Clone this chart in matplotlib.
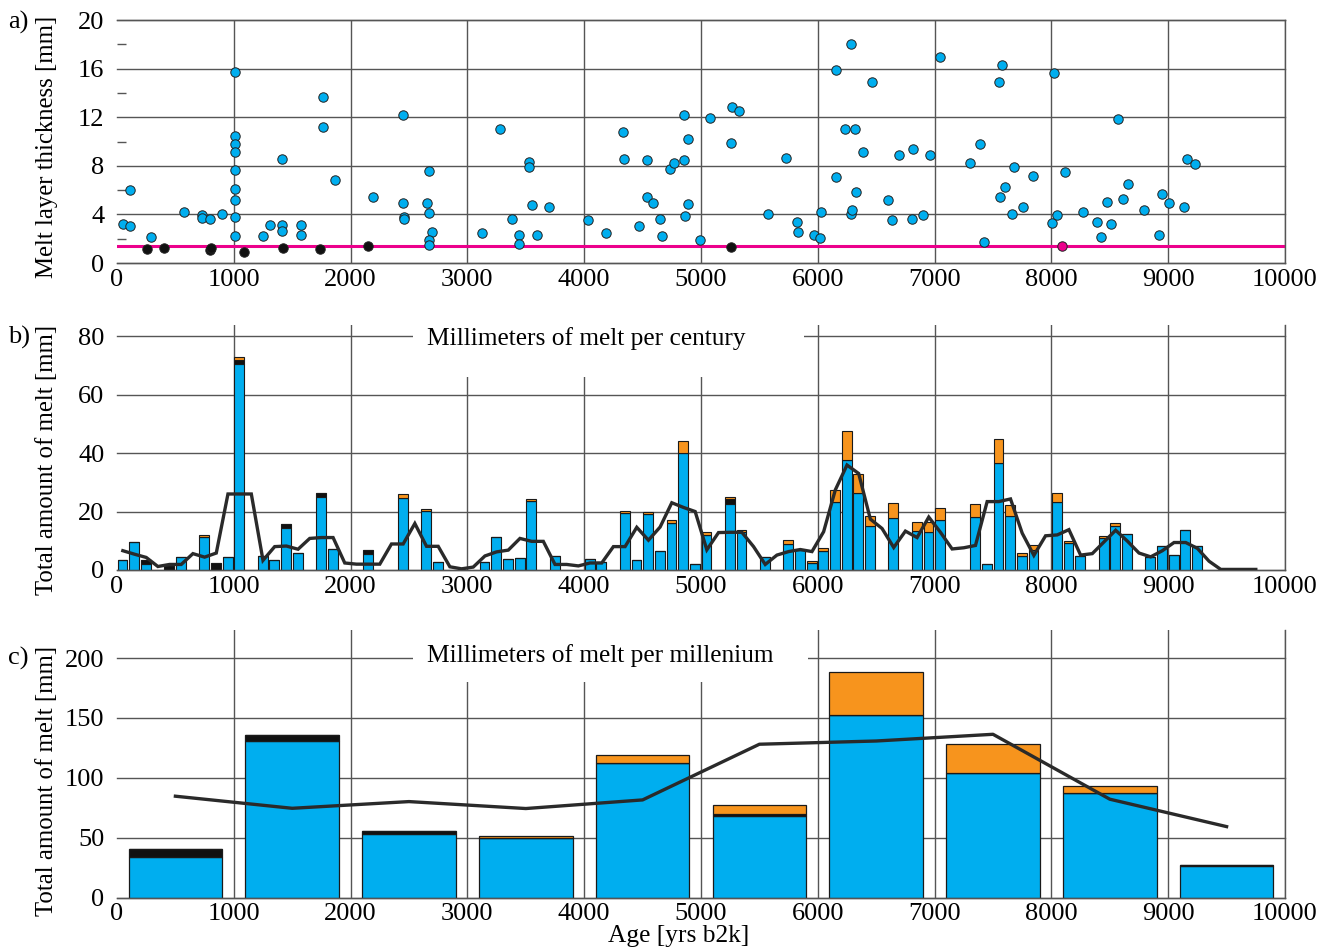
import matplotlib
matplotlib.use("Agg")
import matplotlib.pyplot as plt
from matplotlib.patches import Rectangle
import numpy as np

plt.rcParams['font.family'] = ['Liberation Serif', 'DejaVu Serif']

# ---------------- Panel a data: individual melt layers ----------------
blue_x = [48, 108, 108, 290, 573, 729, 729, 795, 903,
          1011, 1011, 1011, 1011, 1011, 1011, 1011, 1011, 1011,
          1251, 1311, 1413, 1413, 1413, 1578, 1578, 1761, 1761, 1863, 2188,
          2447, 2447, 2453, 2453, 2672, 2655, 2672, 2701, 2672, 2672,
          3125, 3282, 3379, 3438, 3438, 3529, 3529, 3552, 3592, 3697,
          4033, 4190, 4335, 4338, 4466, 4534, 4534, 4591, 4648, 4665,
          4734, 4773, 4853, 4853, 4859, 4890, 4890, 4993, 5081,
          5260, 5269, 5328, 5573, 5724, 5821, 5832, 5969, 6020, 6029,
          6160, 6160, 6231, 6285, 6319, 6285, 6294, 6330, 6390, 6464,
          6601, 6635, 6692, 6809, 6818, 6900, 6960, 7043, 7305, 7390, 7419,
          7553, 7575, 7558, 7601, 7661, 7678, 7758, 7843, 8006, 8026, 8046, 8117,
          8271, 8393, 8427, 8473, 8507, 8573, 8613, 8655, 8795, 8920, 8946,
          9003, 9131, 9160, 9228]
blue_y = [3.23, 6.03, 3.04, 2.16, 4.16, 3.95, 3.70, 3.64, 4.03,
          15.75, 10.44, 9.78, 9.10, 7.62, 6.05, 5.18, 3.81, 2.22,
          2.19, 3.12, 8.52, 3.10, 2.60, 3.15, 2.27, 13.70, 11.23, 6.85, 5.45,
          12.16, 4.93, 3.80, 3.60, 7.56, 4.93, 4.11, 2.55, 1.92, 1.45,
          2.47, 10.99, 3.62, 2.30, 1.53, 8.30, 7.92, 4.74, 2.33, 4.58,
          3.51, 2.47, 10.82, 8.52, 3.04, 8.49, 5.45, 4.90, 3.64, 2.25,
          7.70, 8.27, 12.19, 8.47, 3.89, 10.19, 4.85, 1.92, 11.95,
          9.84, 12.85, 12.47, 4.00, 8.63, 3.40, 2.58, 2.33, 2.05, 4.22,
          15.89, 7.10, 10.99, 18.00, 11.04, 4.03, 4.36, 5.84, 9.10, 14.88,
          5.15, 3.56, 8.88, 3.64, 9.37, 3.92, 8.88, 16.99, 8.19, 9.78, 1.75,
          14.90, 16.27, 5.40, 6.25, 4.00, 7.92, 4.58, 7.18, 3.26, 15.67, 3.97, 7.53,
          4.22, 3.40, 2.16, 5.01, 3.23, 11.84, 5.29, 6.49, 4.36, 2.30, 5.64,
          4.93, 4.63, 8.52, 8.16]
black_x = [256, 402, 800, 806, 1085, 1419, 1741, 2151, 5257]
black_y = [1.15, 1.26, 1.10, 1.25, 0.90, 1.23, 1.15, 1.37, 1.32]
pink_x = [8094]
pink_y = [1.40]
threshold = 1.4

# ---------------- Panel b data: melt per century ----------------
cent_start = [0, 100, 200, 400, 500, 700, 800, 900, 1000, 1200, 1300, 1400, 1500,
              1700, 1800, 2100, 2400, 2600, 2700, 3100, 3200, 3300, 3400, 3500,
              3700, 4000, 4100, 4300, 4400, 4500, 4600, 4700, 4800, 4900, 5000,
              5200, 5300, 5500, 5700, 5800, 5900, 6000, 6100, 6200, 6300, 6400,
              6600, 6800, 6900, 7000, 7300, 7400, 7500, 7600, 7700, 7800, 8000,
              8100, 8200, 8400, 8500, 8600, 8800, 8900, 9000, 9100, 9200]
cent_blue = [3.4, 9.6, 2.2, 0.0, 4.5, 11.4, 0.0, 4.3, 70.6, 4.8, 3.4, 14.3, 5.9,
             24.8, 7.1, 5.5, 24.6, 20.3, 2.6, 2.6, 11.3, 3.8, 4.1, 23.5,
             4.8, 3.8, 2.6, 19.5, 3.4, 19.0, 6.5, 16.1, 40.0, 2.2, 11.9,
             22.6, 13.0, 4.3, 8.8, 6.9, 2.4, 6.6, 23.2, 37.6, 26.3, 14.9,
             17.8, 13.3, 13.0, 17.0, 18.1, 2.2, 36.7, 18.4, 4.7, 6.9, 23.2,
             9.3, 4.7, 10.9, 15.2, 12.3, 4.6, 8.3, 5.3, 13.6, 8.3]
cent_black = [0, 0, 1.2, 1.3, 0, 0, 2.4, 0, 1.1, 0, 0, 1.6, 0,
              1.4, 0, 1.5, 0, 0, 0, 0, 0, 0, 0, 0,
              0, 0, 0, 0, 0, 0, 0, 0, 0, 0, 0,
              1.6, 0, 0, 0, 0, 0, 0, 0, 0, 0, 0,
              0, 0, 0, 0, 0, 0, 0, 0, 0, 0, 0,
              0, 0, 0, 0, 0, 0, 0, 0, 0, 0]
cent_orange = [0, 0, 0, 0, 0, 0.6, 0, 0, 1.2, 0, 0, 0, 0,
               0, 0, 0, 1.4, 0.7, 0, 0, 0, 0, 0, 0.8,
               0, 0, 0, 0.8, 0, 0.8, 0, 1.0, 4.0, 0, 1.0,
               0.6, 0.7, 0, 1.3, 0, 0.6, 0.8, 4.1, 9.8, 6.5, 3.4,
               5.1, 3.2, 3.4, 4.1, 4.4, 0, 8.2, 4.0, 1.0, 1.7, 3.1,
               0.6, 0, 0.8, 0.8, 0, 0, 0, 0, 0, 0]
cent_line_x = list(range(50, 9800, 100))
cent_line_y = [6.6, 5.4, 4.3, 1.2, 1.9, 1.9, 5.6, 4.4, 5.8, 26.0,
               26.0, 26.0, 3.3, 8.0, 8.2, 7.1, 10.8, 11.1, 11.1, 2.4,
               2.0, 2.0, 2.0, 8.9, 8.9, 15.9, 8.1, 8.1, 1.1, 0.4,
               1.0, 4.8, 6.2, 6.8, 10.8, 9.8, 9.8, 1.9, 1.9, 1.4,
               2.4, 2.4, 8.0, 8.0, 14.6, 10.2, 14.7, 23.0, 21.4, 20.0,
               6.9, 12.8, 12.9, 12.9, 8.0, 1.9, 5.1, 6.3, 7.0, 6.3,
               13.1, 27.4, 35.9, 33.0, 17.4, 14.2, 7.7, 13.3, 11.1, 18.1,
               12.9, 7.2, 7.6, 8.4, 23.4, 23.4, 24.3, 12.6, 5.0, 11.7,
               12.0, 13.8, 5.1, 5.6, 9.6, 13.6, 9.9, 5.8, 4.5, 6.6,
               9.4, 9.4, 7.4, 3.0, 0.2, 0.2, 0.2, 0.2]

# ---------------- Panel c data: melt per millennium ----------------
mill_center = [500, 1500, 2500, 3500, 4500, 5500, 6500, 7500, 8500, 9500]
mill_blue = [34.2, 130.5, 53.1, 49.5, 112.1, 68.4, 152.2, 103.8, 87.1, 26.4]
mill_black = [5.9, 5.0, 2.5, 0.0, 0.0, 1.4, 0.0, 0.0, 0.0, 0.9]
mill_orange = [0.0, 0.0, 0.0, 1.8, 6.7, 7.6, 36.4, 24.2, 6.4, 0.0]
mill_line = [84.6, 74.5, 80.1, 74.3, 81.5, 128.0, 130.7, 136.3, 82.1, 59.2]

xticks = list(range(0, 10001, 1000))

BLUE = '#00AEEF'
ORANGE = '#F7941D'
BLACK = '#111111'
PINK = '#EC008C'
GRID = '#555555'
LINE = '#2a2a2a'
FS_TICK = 19
FS_TITLE = 18.3
FS_LAB = 17.8

W, H = 1324, 950
fig = plt.figure(figsize=(W / 100, H / 100), dpi=100)

def frame(ax, yt, top_spine=False):
    ax.set_xlim(0, 10000)
    ax.spines['left'].set_visible(False)
    ax.spines['top'].set_visible(top_spine)
    for s in ['bottom', 'right', 'top']:
        ax.spines[s].set_color(GRID)
        ax.spines[s].set_linewidth(1.0)
    for v in xticks[1:]:
        ax.axvline(v, color=GRID, lw=1.0, zorder=0.5)
    for v in yt:
        ax.axhline(v, color=GRID, lw=1.0, zorder=0.5, clip_on=False)
    ax.set_xticks(xticks)
    ax.set_xticklabels([str(v) for v in xticks])
    ax.set_yticks(yt)
    ax.set_yticklabels([str(v) for v in yt])
    ax.tick_params(axis='both', which='major', length=0, labelsize=FS_TICK)
    ax.tick_params(axis='y', which='major', pad=9)
    ax.tick_params(axis='x', which='major', pad=4)

# Panel a
ax_a = fig.add_axes([117 / W, 1 - 263 / H, 1168 / W, 243 / H])
frame(ax_a, [0, 4, 8, 12, 16, 20], top_spine=True)
ax_a.set_ylim(0, 20)
ax_a.set_yticks([2, 6, 10, 14, 18], minor=True)
ax_a.tick_params(axis='y', which='minor', direction='in', length=6.5, width=1.0, color=GRID)
ax_a.axhline(threshold, color=PINK, lw=2.2, zorder=2)
ax_a.scatter(blue_x, blue_y, s=46, c=BLUE, edgecolors='#222222', linewidths=0.7, zorder=3, clip_on=False)
ax_a.scatter(black_x, black_y, s=46, c=BLACK, edgecolors='#222222', linewidths=0.7, zorder=3)
ax_a.scatter(pink_x, pink_y, s=46, c=PINK, edgecolors='#222222', linewidths=0.7, zorder=3)

# Panel b
ax_b = fig.add_axes([117 / W, 1 - 570 / H, 1168 / W, 245 / H])
frame(ax_b, [0, 20, 40, 60, 80])
ax_b.set_ylim(0, 83.8)
ax_b.add_patch(Rectangle((2530, 66), 3350, 30, facecolor='white', edgecolor='none', zorder=0.8))
bx = np.array(cent_start) + 47
cb = np.array(cent_blue)
ck = np.array(cent_black)
co = np.array(cent_orange)
kw = dict(width=84, edgecolor='#1a1a1a', linewidth=0.8, zorder=2)
ax_b.bar(bx, cb, color=BLUE, **kw)
ax_b.bar(bx, ck, bottom=cb, color=BLACK, **kw)
ax_b.bar(bx, co, bottom=cb + ck, color=ORANGE, **kw)
ax_b.plot(cent_line_x, cent_line_y, color=LINE, lw=2.4, zorder=4, solid_joinstyle='miter')
ax_b.text(2655, 79.3, 'Millimeters of melt per century', fontsize=FS_TITLE, va='center', ha='left', zorder=5)

# Panel c
ax_c = fig.add_axes([117 / W, 1 - 897.5 / H, 1168 / W, 267.5 / H])
frame(ax_c, [0, 50, 100, 150, 200])
ax_c.set_ylim(0, 223.4)
ax_c.add_patch(Rectangle((2530, 180), 3390, 60, facecolor='white', edgecolor='none', zorder=0.8))
mb = np.array(mill_blue)
mk = np.array(mill_black)
mo = np.array(mill_orange)
kw = dict(width=800, edgecolor='#1a1a1a', linewidth=0.9, zorder=2)
ax_c.bar(mill_center, mb, color=BLUE, **kw)
ax_c.bar(mill_center, mk, bottom=mb, color=BLACK, **kw)
ax_c.bar(mill_center, mo, bottom=mb + mk, color=ORANGE, **kw)
ax_c.plot(mill_center, mill_line, color=LINE, lw=2.4, zorder=4)
ax_c.text(2655, 201.7, 'Millimeters of melt per millenium', fontsize=FS_TITLE, va='center', ha='left', zorder=5)

# Labels
fig.text(8 / W, 1 - 22 / H, 'a)', fontsize=FS_TICK, va='center', ha='left')
fig.text(8 / W, 1 - 337 / H, 'b)', fontsize=FS_TICK, va='center', ha='left')
fig.text(8 / W, 1 - 658 / H, 'c)', fontsize=FS_TICK, va='center', ha='left')
fig.text(47 / W, 1 - 147 / H, 'Melt layer thickness [mm]', fontsize=FS_LAB, rotation=90, va='center', ha='center')
fig.text(47 / W, 1 - 460 / H, 'Total amount of melt [mm]', fontsize=FS_LAB, rotation=90, va='center', ha='center')
fig.text(47 / W, 1 - 781 / H, 'Total amount of melt [mm]', fontsize=FS_LAB, rotation=90, va='center', ha='center')
fig.text(679 / W, 1 - 936 / H, 'Age [yrs b2k]', fontsize=FS_TITLE, va='center', ha='center')

fig.savefig('out.png', dpi=100)
